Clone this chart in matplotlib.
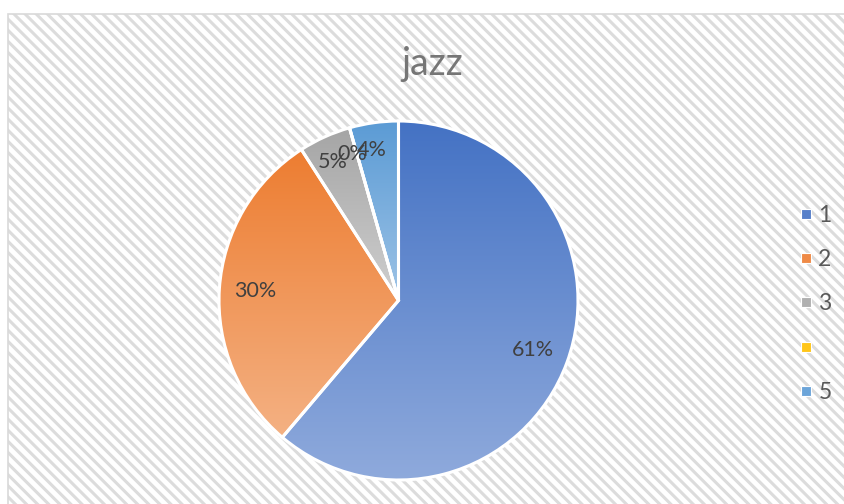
import matplotlib
matplotlib.use('Agg')
import matplotlib.pyplot as plt
import numpy as np
from matplotlib.patches import Rectangle
from matplotlib.lines import Line2D
from matplotlib.colors import to_rgb

# ---- data ----
title = 'jazz'
categories = ['1', '2', '3', '4', '5']
values = [61.2, 29.7, 4.7, 0.0, 4.4]
legend_labels = ['1', '2', '3', '', '5']
top_colors = ['#4472C4', '#ED7D31', '#A5A5A5', '#FFC000', '#5B9BD5']
bottom_colors = ['#8FAADC', '#F4B183', '#CFCFCF', '#FFD966', '#9DC3E6']

plt.rcParams['font.family'] = ['Lato', 'DejaVu Sans']
plt.rcParams['hatch.linewidth'] = 2.2

W, H = 844, 504
fig = plt.figure(figsize=(W / 100, H / 100), dpi=100)
fig.patch.set_facecolor('white')

# chart-area background with diagonal stripes and border
bg = Rectangle((8 / W, -0.1), 1.0, 1 - 14 / H + 0.1, transform=fig.transFigure,
               facecolor='white', edgecolor='#dcdcdc', linewidth=0,
               hatch='\\\\\\', zorder=0)
fig.add_artist(bg)
border = Rectangle((8 / W, -0.1), 1.0, 1 - 14 / H + 0.1, transform=fig.transFigure,
                   facecolor='none', edgecolor='#d9d9d9', linewidth=1.2, zorder=1)
fig.add_artist(border)

# pie axes
cx, cy, r = 398.5, 300.5, 179.5
half = 190
ax = fig.add_axes([(cx - half) / W, (H - cy - half) / H, 2 * half / W, 2 * half / H])
ax.set_axis_off()
ax.patch.set_visible(False)

wedges, texts, autotexts = ax.pie(
    values, startangle=90, counterclock=False, radius=1,
    autopct='%1.0f%%', pctdistance=0.8,
    wedgeprops=dict(edgecolor='white', linewidth=2.2),
    textprops=dict(color='#404040', fontsize=15.5))

for w, v, c0, c1 in zip(wedges, values, top_colors, bottom_colors):
    w.set_facecolor('none')
    w.set_zorder(3)
    if v <= 0:
        continue
    ext = w.get_path().get_extents()
    t = np.linspace(0, 1, 256)[:, None]
    grad = (1 - t) * np.array(to_rgb(c0)) + t * np.array(to_rgb(c1))
    img = ax.imshow(grad[:, None, :], extent=(ext.x0, ext.x1, ext.y0, ext.y1),
                    origin='upper', aspect='auto', interpolation='bilinear', zorder=2)
    img.set_clip_path(w)

for v, at in zip(values, autotexts):
    at.set_zorder(5)
    if v < 10:
        x, y = at.get_position()
        at.set_position((x - 0.04, y + 0.045))

lim = half / r
ax.set_xlim(-lim, lim)
ax.set_ylim(-lim, lim)

# title
fig.text(432 / W, 1 - 75 / H, title, ha='center', va='baseline',
         fontsize=27, color='#767676')

# legend
legend_colors = []
for c0, c1 in zip(top_colors, bottom_colors):
    a, b = np.array(to_rgb(c0)), np.array(to_rgb(c1))
    legend_colors.append(tuple(0.75 * a + 0.25 * b))
handles = [Line2D([], [], linestyle='none', marker='s', markersize=6.5,
                  markerfacecolor=c, markeredgecolor='white', markeredgewidth=0.8)
           for c in legend_colors]
fig.legend(handles, legend_labels, loc='center left',
           bbox_to_anchor=(800 / W, 1 - 304 / H), frameon=False, fontsize=16.5,
           handlelength=0.5, handletextpad=0.3, labelspacing=1.02,
           borderpad=0, borderaxespad=0, labelcolor='#595959')

fig.savefig('out.png', dpi=100)
